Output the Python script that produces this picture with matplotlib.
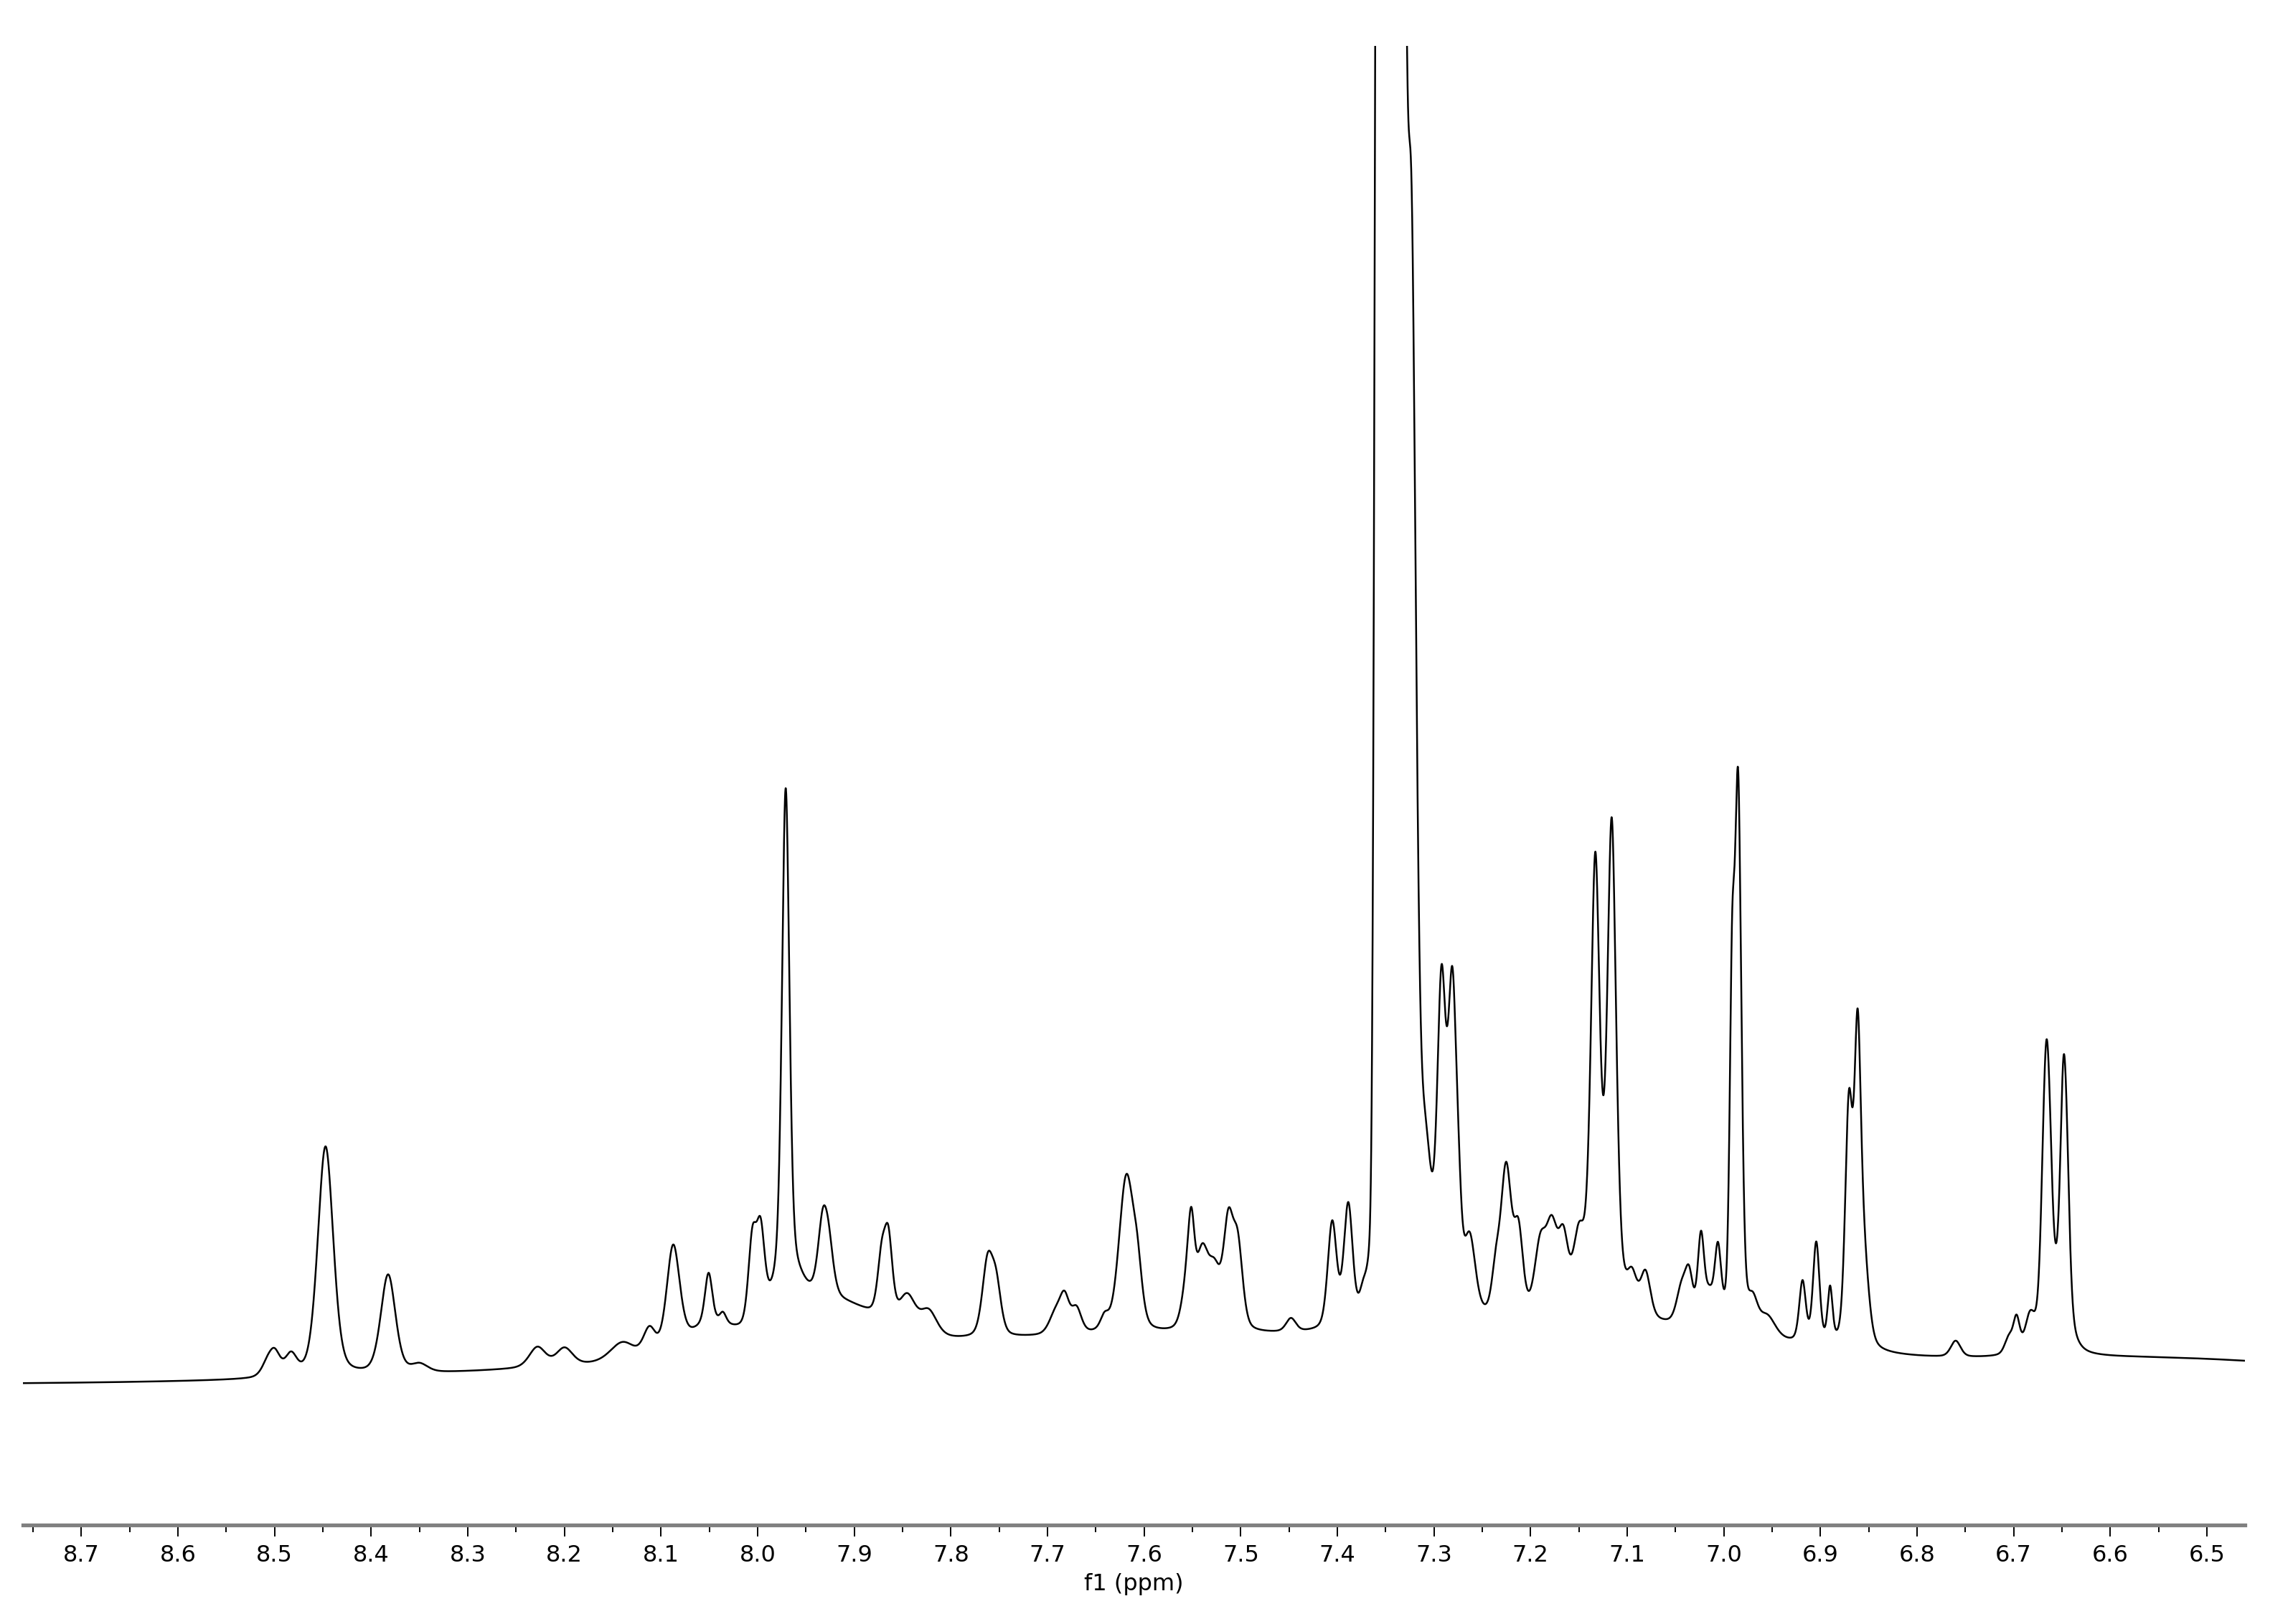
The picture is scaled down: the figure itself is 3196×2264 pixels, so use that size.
import numpy as np
import matplotlib
matplotlib.use("Agg")
import matplotlib.pyplot as plt
from matplotlib.ticker import MultipleLocator, FormatStrFormatter

# ---- spectrum window (ppm, high -> low) ----
PPM_LEFT, PPM_RIGHT = 8.7605, 6.4606
Y_MIN, Y_MAX = -10.5, 100.0          # tall multiplet at 7.35 is cut at the top

# ---- resolved lines: centre, height, FWHM, Lorentzian fraction ----
PEAK_PPM = [8.508, 8.500, 8.483, 8.4473, 8.3825, 8.350, 8.228, 8.200, 8.140, 8.112,
            8.0875, 8.0508, 8.036, 8.0055, 7.9970, 7.9710, 7.9327, 7.9264, 7.8718, 7.8647,
            7.8450, 7.8230, 7.7620, 7.7530, 7.6920, 7.6824, 7.6700, 7.6410, 7.6185, 7.6070,
            7.5560, 7.5512, 7.5400, 7.5270, 7.5128, 7.5030, 7.4480, 7.4053, 7.3887, 7.3730,
            7.3660, 7.3585, 7.3530, 7.3475, 7.3420, 7.3365, 7.3330, 7.3235, 7.3090, 7.2922,
            7.2810, 7.2745, 7.2630, 7.2360, 7.2253, 7.2125, 7.1900, 7.1780, 7.1660, 7.1500,
            7.1330, 7.1160, 7.0950, 7.0810, 7.0440, 7.0360, 7.0236, 7.0150, 7.0061, 6.9915,
            6.9852, 6.9700, 6.9550, 6.9185, 6.9043, 6.8900, 6.8705, 6.8615, 6.8550, 6.7600,
            6.7050, 6.6970, 6.6830, 6.6695, 6.6661, 6.6627, 6.6560, 6.6485, 6.6448,
            8.050, 7.930, 7.970]
PEAK_HEIGHT = [0.8, 1.7, 1.5, 17.2, 7.4, 0.6, 1.5, 1.3, 1.4, 2.0,
               7.7, 3.8, 0.8, 6.3, 6.3, 36.3, 5.1, 3.2, 4.1, 5.8,
               2.5, 1.8, 5.5, 3.5, 1.5, 2.6, 1.8, 1.0, 11.5, 3.5,
               3.0, 6.0, 5.5, 4.0, 7.5, 6.0, 1.0, 7.9, 9.1, 2.5,
               4.0, 130, 150, 150, 150, 150, 100, 80, 11, 23,
               23, 4.0, 5.5, 3.0, 11.0, 6.0, 5.0, 6.0, 5.0, 5.0,
               33, 36, 2.5, 3.3, 2.5, 3.5, 6.5, 2.0, 5.5, 22,
               40, 2.0, 1.5, 4.5, 7.5, 4.0, 17.5, 21.0, 6.0, 1.2,
               1.2, 2.5, 2.5, 6.0, 13.0, 7.0, 4.0, 15.0, 7.0,
               2.0, 3.5, 3.0]
PEAK_FWHM = [0.014, 0.014, 0.014, 0.019, 0.018, 0.020, 0.020, 0.020, 0.030, 0.015,
             0.016, 0.009, 0.008, 0.010, 0.010, 0.009, 0.012, 0.012, 0.010, 0.010,
             0.020, 0.020, 0.013, 0.012, 0.015, 0.012, 0.012, 0.010, 0.018, 0.012,
             0.012, 0.008, 0.015, 0.015, 0.012, 0.012, 0.012, 0.011, 0.011, 0.010,
             0.008, 0.0065, 0.0065, 0.0065, 0.0065, 0.0065, 0.009, 0.0116, 0.016, 0.0105,
             0.0105, 0.008, 0.014, 0.010, 0.013, 0.011, 0.014, 0.014, 0.012, 0.014,
             0.011, 0.011, 0.012, 0.012, 0.012, 0.010, 0.008, 0.010, 0.008, 0.006,
             0.008, 0.012, 0.020, 0.008, 0.008, 0.006, 0.009, 0.008, 0.012, 0.012,
             0.010, 0.008, 0.012, 0.008, 0.008, 0.008, 0.025, 0.008, 0.008,
             0.060, 0.120, 0.035]
PEAK_LFRAC = ([0.35] * 41 + [0.0] * 6 + [0.3] + [0.35] * 12 + [0.5, 0.5]
              + [0.35] * 27 + [0.0] * 3)

# ---- broad rolling baseline under the aromatic region ----
BASE_PPM = [7.60, 7.10, 6.55]
BASE_HEIGHT = [3.6, 2.5, 1.8]
BASE_FWHM = [1.0, 0.4, 0.5]


def gauss(x, c, h, w):
    return h * np.exp(-4 * np.log(2) * ((x - c) / w) ** 2)


def lorentz(x, c, h, w):
    return h / (1 + ((x - c) / (w / 2)) ** 2)


x = np.linspace(PPM_LEFT, PPM_RIGHT, 16000)
y = np.zeros_like(x)
for c, h, w in zip(BASE_PPM, BASE_HEIGHT, BASE_FWHM):
    y += gauss(x, c, h, w)
for c, h, w, f in zip(PEAK_PPM, PEAK_HEIGHT, PEAK_FWHM, PEAK_LFRAC):
    y += (1 - f) * gauss(x, c, h, w) + f * lorentz(x, c, h, w)

plt.rcParams.update({"font.family": "DejaVu Sans", "font.size": 11.5})

fig = plt.figure(figsize=(15.98, 11.32), dpi=200)
ax = fig.add_axes([0.0100, 0.06095, 0.96903, 0.91078])
ax.plot(x, y, color="black", lw=0.9)
ax.set_xlim(PPM_LEFT, PPM_RIGHT)
ax.set_ylim(Y_MIN, Y_MAX)

for s in ("top", "right", "left"):
    ax.spines[s].set_visible(False)
ax.spines["bottom"].set_color("#808080")
ax.spines["bottom"].set_linewidth(1.9)
ax.set_yticks([])

ax.xaxis.set_major_locator(MultipleLocator(0.1))
ax.xaxis.set_minor_locator(MultipleLocator(0.05))
ax.xaxis.set_major_formatter(FormatStrFormatter("%.1f"))
ax.tick_params(axis="x", which="major", direction="out", length=5.8, width=0.7,
               color="black", pad=4, labelsize=11.5, labelcolor="black")
ax.tick_params(axis="x", which="minor", direction="out", length=3.5, width=0.7, color="black")

ax.set_xlabel("f1 (ppm)", fontsize=11.5, va="center")
ax.xaxis.set_label_coords(0.5, -0.0398)

fig.savefig("out.png", dpi=200, facecolor="white")
